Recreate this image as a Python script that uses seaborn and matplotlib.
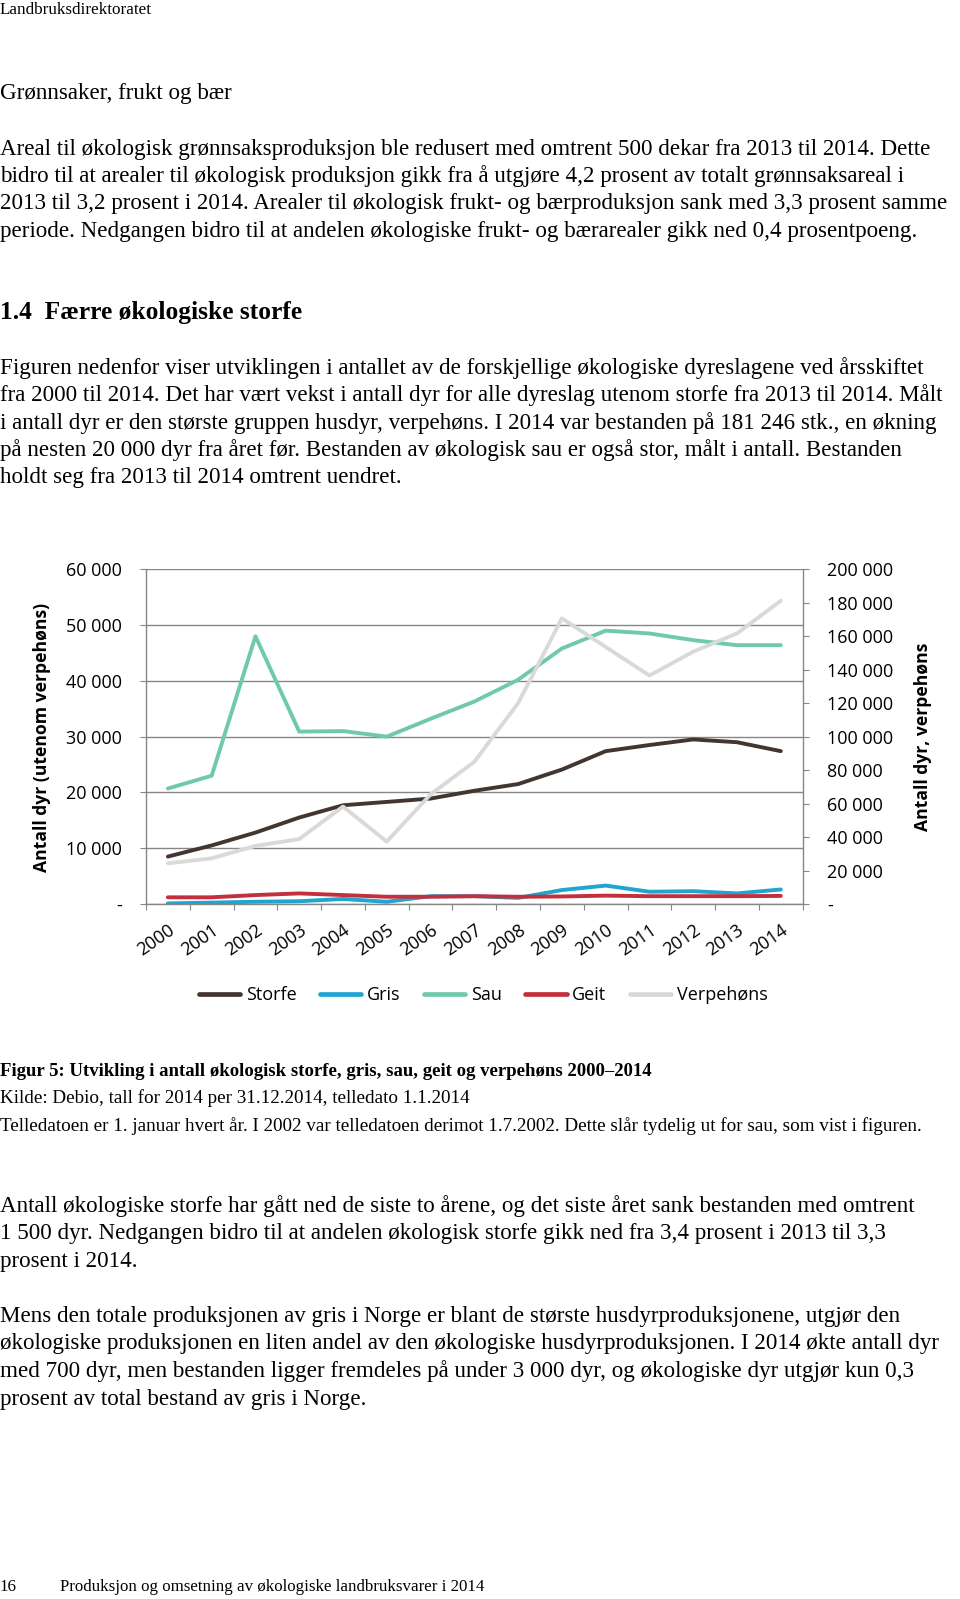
import matplotlib
matplotlib.use("Agg")
import matplotlib.pyplot as plt
from matplotlib.lines import Line2D
import seaborn as sns
import pandas as pd
import numpy as np

# data lest av figuren
years = list(range(2000, 2015))
storfe = [8500, 10500, 12800, 15500, 17700, 18300, 18900, 20300, 21500, 24100, 27400, 28500, 29500, 29000, 27400]
gris = [100, 250, 400, 500, 900, 400, 1400, 1400, 1100, 2500, 3300, 2200, 2300, 1900, 2600]
sau = [20700, 23000, 48000, 30900, 31000, 30000, 33200, 36300, 40200, 45800, 49000, 48500, 47300, 46400, 46400]
geit = [1200, 1200, 1600, 1900, 1600, 1300, 1300, 1400, 1300, 1350, 1500, 1400, 1400, 1400, 1450]
verpehons = [24300, 27300, 34700, 38800, 58200, 37300, 65500, 85000, 120000, 170700, 153600, 136500, 150800, 161700, 181200]

series_names = ["Storfe", "Gris", "Sau", "Geit"]
colors = {"Storfe": "#433630", "Gris": "#20a4d0", "Sau": "#6fcaa8",
          "Geit": "#c42f3d", "Verpehøns": "#d9d9d7"}

left_ticks = [0, 10000, 20000, 30000, 40000, 50000, 60000]
right_ticks = list(range(0, 200001, 20000))

W, H = 960, 1599
serif = ["Liberation Serif", "DejaVu Serif"]
sans = ["Open Sans", "DejaVu Sans"]
body = 16.6

fig = plt.figure(figsize=(W / 100, H / 100), dpi=100)


def put(x, y, s, size, weight="normal", family=serif):
    fig.text(x / W, 1 - y / H, s, fontsize=size, fontweight=weight,
             family=family, ha="left", va="center")


def fmt(v):
    return "-" if v == 0 else f"{v:,.0f}".replace(",", " ")


# --- tekst over figuren ---
put(0, 10, "Landbruksdirektoratet", 12.3)
put(0, 93, "Grønnsaker, frukt og bær", body)
p1 = [
    "Areal til økologisk grønnsaksproduksjon ble redusert med omtrent 500 dekar fra 2013 til 2014. Dette",
    "bidro til at arealer til økologisk produksjon gikk fra å utgjøre 4,2 prosent av totalt grønnsaksareal i",
    "2013 til 3,2 prosent i 2014. Arealer til økologisk frukt- og bærproduksjon sank med 3,3 prosent samme",
    "periode. Nedgangen bidro til at andelen økologiske frukt- og bærarealer gikk ned 0,4 prosentpoeng.",
]
for i, line in enumerate(p1):
    put(0, 149 + i * 27.5, line, body)

put(0, 313, "1.4  Færre økologiske storfe", 18.4, "bold")
p2 = [
    "Figuren nedenfor viser utviklingen i antallet av de forskjellige økologiske dyreslagene ved årsskiftet",
    "fra 2000 til 2014. Det har vært vekst i antall dyr for alle dyreslag utenom storfe fra 2013 til 2014. Målt",
    "i antall dyr er den største gruppen husdyr, verpehøns. I 2014 var bestanden på 181 246 stk., en økning",
    "på nesten 20 000 dyr fra året før. Bestanden av økologisk sau er også stor, målt i antall. Bestanden",
    "holdt seg fra 2013 til 2014 omtrent uendret.",
]
for i, line in enumerate(p2):
    put(0, 368 + i * 27.5, line, body)

# --- diagram ---
ax = fig.add_axes([146 / W, 1 - 904 / H, (802.7 - 146) / W, (904 - 569.3) / H])
df = pd.DataFrame({
    "År": years * 4,
    "Antall": storfe + gris + sau + geit,
    "Dyreslag": [n for n in series_names for _ in years],
})
sns.lineplot(data=df, x="År", y="Antall", hue="Dyreslag", hue_order=series_names,
             palette=colors, linewidth=2.8, solid_capstyle="round", legend=False, ax=ax)

ax2 = ax.twinx()
sns.lineplot(x=years, y=verpehons, color=colors["Verpehøns"], linewidth=2.8,
             solid_capstyle="round", ax=ax2)

grey = "#868686"
ax.set_xlim(1999.5, 2014.5)
ax.set_ylim(0, 60000)
ax2.set_ylim(0, 200000)
ax.set_xlabel("")
ax.set_ylabel("")
ax2.set_ylabel("")

ax.set_yticks(left_ticks)
ax.set_yticklabels([fmt(v) for v in left_ticks])
ax2.set_yticks(right_ticks)
ax2.set_yticklabels([fmt(v) for v in right_ticks])

ax.set_xticks(np.arange(1999.5, 2015, 1.0))
ax.set_xticklabels([])
ax.set_xticks(years, minor=True)
ax.set_xticklabels([str(y) for y in years], minor=True, rotation=35,
                   ha="right", rotation_mode="anchor")

ax.yaxis.grid(True, color=grey, linewidth=1)
ax.set_axisbelow(True)
for a in (ax, ax2):
    a.spines["top"].set_visible(False)
ax.spines["right"].set_visible(False)
ax2.spines["left"].set_visible(False)
ax2.spines["bottom"].set_visible(False)
for sp in (ax.spines["left"], ax.spines["bottom"], ax2.spines["right"]):
    sp.set_color(grey)
    sp.set_linewidth(1)

ax.tick_params(axis="y", length=4.5, color=grey, pad=13, labelsize=13)
ax2.tick_params(axis="y", length=4.5, color=grey, pad=13, labelsize=13)
ax.tick_params(axis="x", which="major", length=4.5, color=grey)
ax.tick_params(axis="x", which="minor", length=0, pad=12, labelsize=13)
for lab in ax.get_yticklabels() + ax2.get_yticklabels() + ax.get_xticklabels(minor=True):
    lab.set_family(sans)

fig.text(41.7 / W, 1 - 737 / H, "Antall dyr (utenom verpehøns)", rotation=90,
         fontsize=12.6, fontweight="bold", family=sans, ha="center", va="center")
fig.text(923 / W, 1 - 737 / H, "Antall dyr, verpehøns", rotation=90,
         fontsize=12.6, fontweight="bold", family=sans, ha="center", va="center")

handles = [Line2D([], [], color=colors[n], linewidth=3.4, solid_capstyle="round")
           for n in series_names + ["Verpehøns"]]
fig.legend(handles, series_names + ["Verpehøns"], loc="center",
           bbox_to_anchor=(483 / W, 1 - 995 / H), ncol=5, frameon=False,
           handlelength=2.3, handletextpad=0.3, columnspacing=1.3,
           prop={"family": sans, "size": 13})

# --- tekst under figuren ---
put(0, 1071, "Figur 5: Utvikling i antall økologisk storfe, gris, sau, geit og verpehøns 2000–2014", 13.5, "bold")
put(0, 1098, "Kilde: Debio, tall for 2014 per 31.12.2014, telledato 1.1.2014", 13.8)
put(0, 1126, "Telledatoen er 1. januar hvert år. I 2002 var telledatoen derimot 1.7.2002. "
             "Dette slår tydelig ut for sau, som vist i figuren.", 13.8)

p3 = [
    "Antall økologiske storfe har gått ned de siste to årene, og det siste året sank bestanden med omtrent",
    "1 500 dyr. Nedgangen bidro til at andelen økologisk storfe gikk ned fra 3,4 prosent i 2013 til 3,3",
    "prosent i 2014.",
]
for i, line in enumerate(p3):
    put(0, 1206.5 + i * 27.5, line, body)

p4 = [
    "Mens den totale produksjonen av gris i Norge er blant de største husdyrproduksjonene, utgjør den",
    "økologiske produksjonen en liten andel av den økologiske husdyrproduksjonen. I 2014 økte antall dyr",
    "med 700 dyr, men bestanden ligger fremdeles på under 3 000 dyr, og økologiske dyr utgjør kun 0,3",
    "prosent av total bestand av gris i Norge.",
]
for i, line in enumerate(p4):
    put(0, 1316.5 + i * 27.5, line, body)

put(0, 1587, "16", 12.2)
put(60, 1587, "Produksjon og omsetning av økologiske landbruksvarer i 2014", 12.2)

fig.savefig("out.png", dpi=100)
